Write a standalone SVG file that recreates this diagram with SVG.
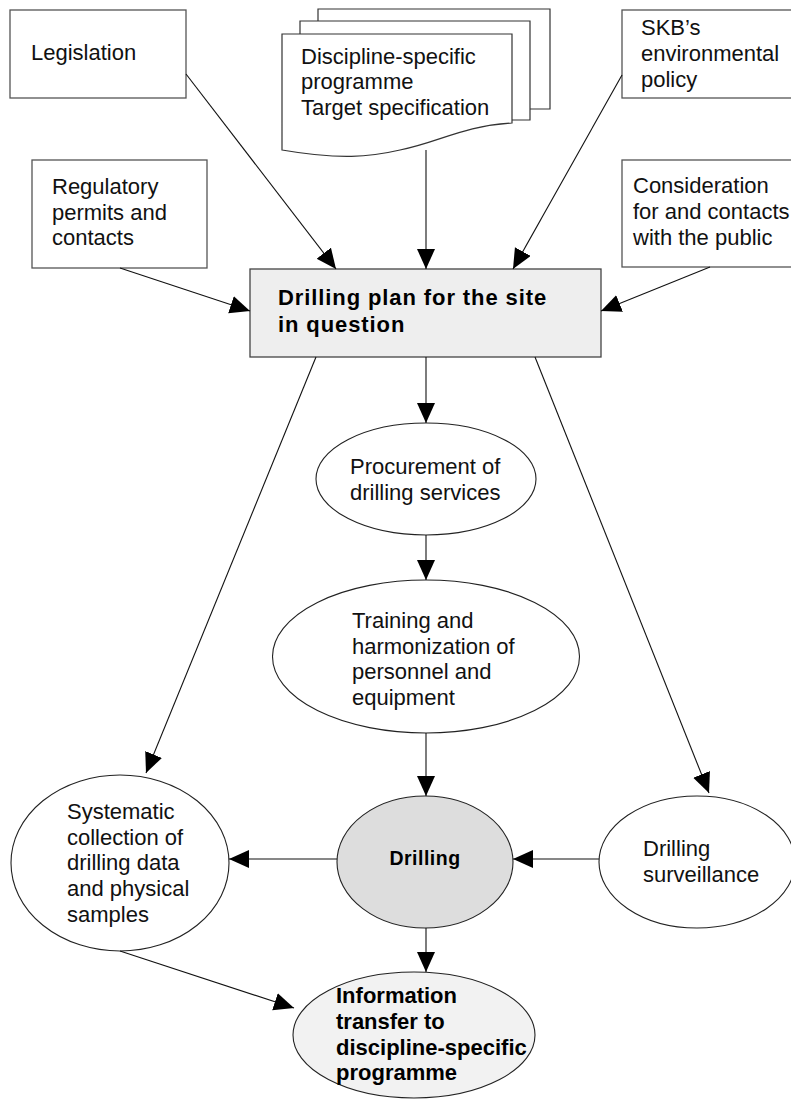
<svg xmlns="http://www.w3.org/2000/svg" width="791" height="1102" viewBox="0 0 791 1102">
  <style>
    .box { fill: #ffffff; stroke: #555555; stroke-width: 1.3; }
    .page { fill: #ffffff; stroke: #333333; stroke-width: 1.2; }
    .oval { fill: #ffffff; stroke: #222222; stroke-width: 1.1; }
    .t { font-family: "Liberation Sans", Arial, Helvetica, sans-serif; font-size: 22px; fill: #111111; }
    .b { font-family: "Liberation Sans", Arial, Helvetica, sans-serif; font-size: 22px; font-weight: bold; fill: #000000; }
    .edge { fill: none; stroke: #111111; stroke-width: 1.1; marker-end: url(#head); }
  </style>
  <defs>
    <marker id="head" markerUnits="userSpaceOnUse" markerWidth="22" markerHeight="19" refX="20" refY="9" orient="auto">
      <path d="M0,0 L20,9 L0,18 Z" fill="#000000"/>
    </marker>
  </defs>
  <rect width="791" height="1102" fill="#ffffff"/>

  <!-- inputs -->
  <g id="legislation">
    <rect class="box" x="10" y="10" width="176" height="88"/>
    <text class="t" x="31" y="60">Legislation</text>
  </g>

  <g id="programme-docs">
    <path class="page" d="M318,21 V9 H550 V109 H530"/>
    <path class="page" d="M300,34 V21 H530 V120 H512"/>
    <path class="page" d="M282,34 H512 V123 C462,126 440,142 400,150 C370,157 340,160 282,150 Z"/>
    <text class="t" x="301" y="64">Discipline-specific</text>
    <text class="t" x="301" y="89">programme</text>
    <text class="t" x="301" y="115">Target specification</text>
  </g>

  <g id="skb-policy">
    <rect class="box" x="622" y="10" width="180" height="88"/>
    <text class="t" x="641" y="35">SKB’s</text>
    <text class="t" x="641" y="61">environmental</text>
    <text class="t" x="641" y="87">policy</text>
  </g>

  <g id="permits">
    <rect class="box" x="32" y="160" width="175" height="108"/>
    <text class="t" x="52" y="194">Regulatory</text>
    <text class="t" x="52" y="220">permits and</text>
    <text class="t" x="52" y="245">contacts</text>
  </g>

  <g id="public">
    <rect class="box" x="622" y="160" width="180" height="107"/>
    <text class="t" x="633" y="193">Consideration</text>
    <text class="t" x="633" y="219">for and contacts</text>
    <text class="t" x="633" y="245">with the public</text>
  </g>

  <!-- plan -->
  <g id="drilling-plan">
    <rect x="250" y="269" width="351" height="88" fill="#eeeeee" stroke="#444444" stroke-width="1.3"/>
    <text class="b" x="278" y="305" style="letter-spacing:0.9px">Drilling plan for the site</text>
    <text class="b" x="278" y="332" style="letter-spacing:0.9px">in question</text>
  </g>

  <!-- activities -->
  <g id="procurement">
    <ellipse class="oval" cx="426" cy="479" rx="110" ry="56"/>
    <text class="t" x="350" y="474">Procurement of</text>
    <text class="t" x="350" y="500">drilling services</text>
  </g>

  <g id="training">
    <ellipse class="oval" cx="426" cy="656.5" rx="153.5" ry="76.5"/>
    <text class="t" x="352" y="628">Training and</text>
    <text class="t" x="352" y="654">harmonization of</text>
    <text class="t" x="352" y="679">personnel and</text>
    <text class="t" x="352" y="705">equipment</text>
  </g>

  <g id="data-collection">
    <ellipse class="oval" cx="120" cy="863" rx="109" ry="88"/>
    <text class="t" x="67" y="819">Systematic</text>
    <text class="t" x="67" y="845">collection of</text>
    <text class="t" x="67" y="870">drilling data</text>
    <text class="t" x="67" y="896">and physical</text>
    <text class="t" x="67" y="922">samples</text>
  </g>

  <g id="drilling">
    <ellipse cx="425" cy="862" rx="88" ry="66" fill="#dddddd" stroke="#222222" stroke-width="1.1"/>
    <text class="b" x="425" y="865" text-anchor="middle" style="font-size:19.5px;letter-spacing:0.5px">Drilling</text>
  </g>

  <g id="surveillance">
    <ellipse class="oval" cx="697" cy="862" rx="98" ry="66"/>
    <text class="t" x="643" y="856">Drilling</text>
    <text class="t" x="643" y="882">surveillance</text>
  </g>

  <g id="information-transfer">
    <ellipse cx="414" cy="1035" rx="121" ry="63" fill="#f2f2f2" stroke="#222222" stroke-width="1.1"/>
    <text class="b" x="336" y="1003">Information</text>
    <text class="b" x="336" y="1029">transfer to</text>
    <text class="b" x="336" y="1055">discipline-specific</text>
    <text class="b" x="336" y="1080">programme</text>
  </g>

  <!-- connectors -->
  <g id="connectors">
    <line class="edge" x1="186" y1="74" x2="336" y2="269"/>
    <line class="edge" x1="426" y1="150" x2="426" y2="269"/>
    <line class="edge" x1="622" y1="75" x2="513" y2="269"/>
    <line class="edge" x1="120" y1="268" x2="250" y2="311"/>
    <line class="edge" x1="710" y1="267" x2="601" y2="311"/>
    <line class="edge" x1="316" y1="357" x2="146" y2="773"/>
    <line class="edge" x1="426" y1="357" x2="426" y2="423"/>
    <line class="edge" x1="535" y1="357" x2="709" y2="793"/>
    <line class="edge" x1="426" y1="535" x2="426" y2="580"/>
    <line class="edge" x1="426" y1="733" x2="426" y2="796"/>
    <line class="edge" x1="337" y1="859" x2="229" y2="859"/>
    <line class="edge" x1="599" y1="859" x2="513" y2="859"/>
    <line class="edge" x1="426" y1="928" x2="426" y2="972"/>
    <line class="edge" x1="120" y1="951" x2="294" y2="1008"/>
  </g>
</svg>
